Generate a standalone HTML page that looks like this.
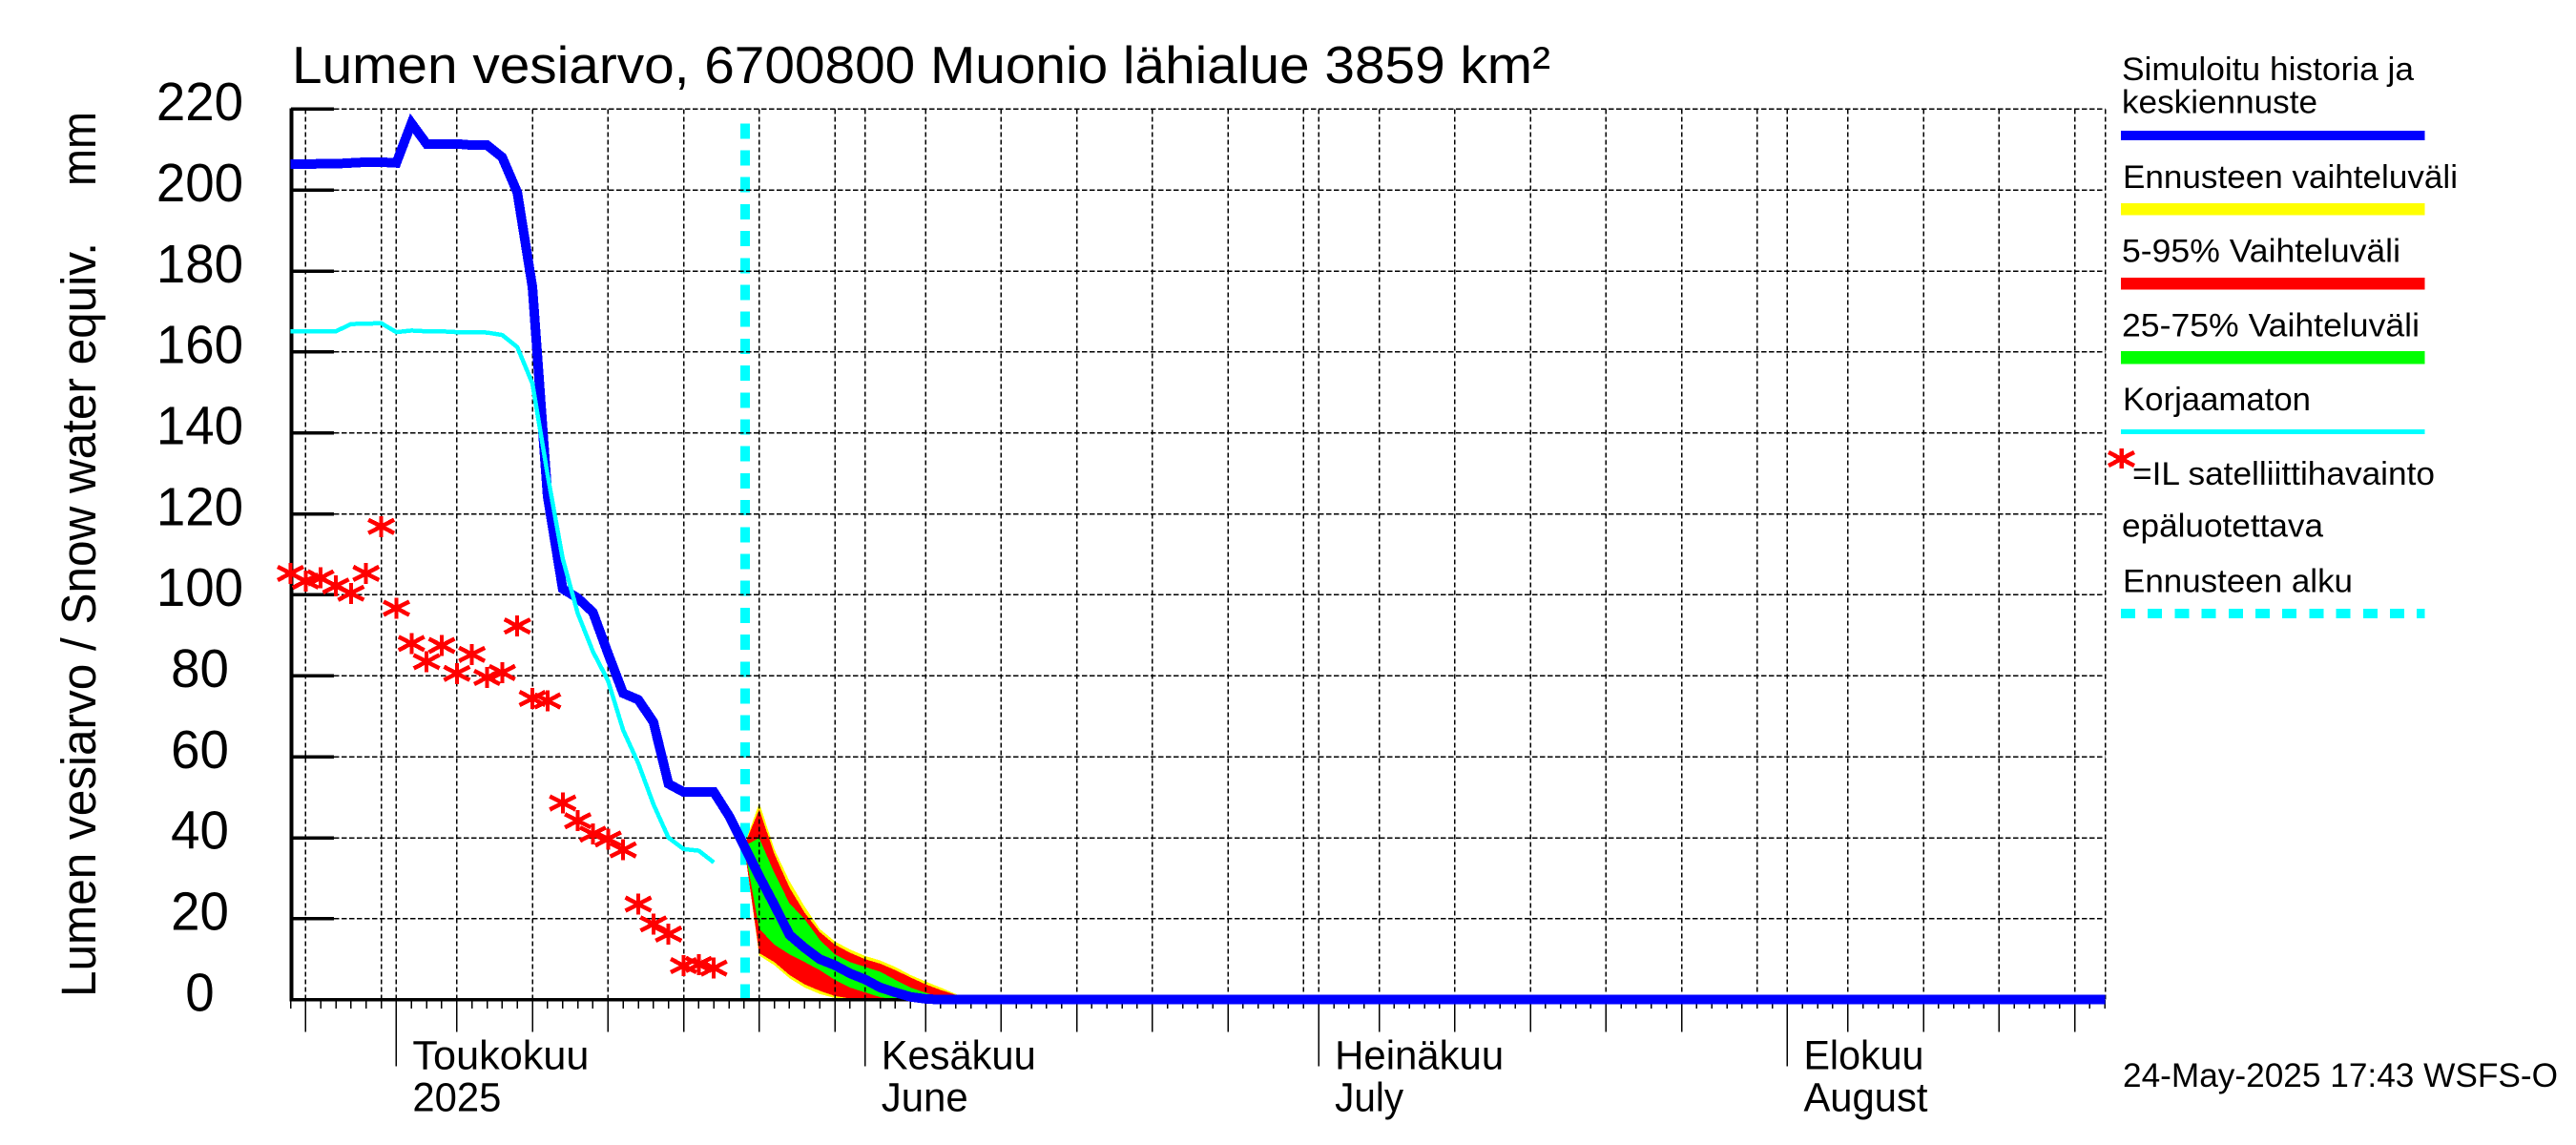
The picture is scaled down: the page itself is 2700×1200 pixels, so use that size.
<!DOCTYPE html>
<html lang="fi">
<head>
<meta charset="utf-8">
<title>Lumen vesiarvo</title>
<style>
html,body{margin:0;padding:0;background:#fff;}
svg{display:block;}
text{font-family:"Liberation Sans",sans-serif;fill:#000;}
</style>
</head>
<body>
<svg id="chart" xmlns="http://www.w3.org/2000/svg" width="2700" height="1200" viewBox="0 0 2700 1200">
  <rect x="0" y="0" width="2700" height="1200" fill="#fff"/>
  <g id="layer-forecast-start"></g>
  <g id="layer-bands"></g>
  <g id="layer-grid"></g>
  <g id="layer-axes"></g>
  <g id="layer-series"></g>
  <g id="layer-stars"></g>

  <text x="306" y="87" font-size="54.5" textLength="1319" lengthAdjust="spacingAndGlyphs">Lumen vesiarvo, 6700800 Muonio lähialue 3859 km²</text>
  <text transform="translate(100,1045) rotate(-90)" font-size="51" textLength="791" lengthAdjust="spacingAndGlyphs">Lumen vesiarvo / Snow water equiv.</text>
  <text transform="translate(100,195) rotate(-90)" font-size="51" textLength="78" lengthAdjust="spacingAndGlyphs">mm</text>

  <g font-size="34.5">
    <text x="2224" y="84" textLength="306" lengthAdjust="spacingAndGlyphs">Simuloitu historia ja</text>
    <text x="2224" y="118.5" textLength="205" lengthAdjust="spacingAndGlyphs">keskiennuste</text>
    <rect x="2223" y="137" width="318.5" height="10" fill="#0000ff"/>
    <text x="2225" y="197" textLength="351" lengthAdjust="spacingAndGlyphs">Ennusteen vaihteluväli</text>
    <rect x="2223" y="213" width="318.5" height="12.5" fill="#ffff00"/>
    <text x="2224" y="274.5" textLength="292" lengthAdjust="spacingAndGlyphs">5-95% Vaihteluväli</text>
    <rect x="2223" y="291" width="318.5" height="12.5" fill="#ff0000"/>
    <text x="2224" y="352.5" textLength="312" lengthAdjust="spacingAndGlyphs">25-75% Vaihteluväli</text>
    <rect x="2223" y="368" width="318.5" height="13.5" fill="#00ff00"/>
    <text x="2225" y="430" textLength="197" lengthAdjust="spacingAndGlyphs">Korjaamaton</text>
    <rect x="2223" y="450" width="318.5" height="5" fill="#00ffff"/>
    <g stroke="#ff0000" stroke-width="4.5" shape-rendering="crispEdges">
      <line x1="2223.5" y1="470" x2="2223.5" y2="491"/>
      <line x1="2210" y1="474" x2="2237" y2="488"/>
      <line x1="2210" y1="488" x2="2237" y2="474"/>
    </g>
    <text x="2235" y="508" textLength="317" lengthAdjust="spacingAndGlyphs">=IL satelliittihavainto</text>
    <text x="2224" y="562.5" textLength="211" lengthAdjust="spacingAndGlyphs">epäluotettava</text>
    <text x="2225" y="620.5" textLength="241" lengthAdjust="spacingAndGlyphs">Ennusteen alku</text>
    <line x1="2223" y1="643" x2="2541.5" y2="643" stroke="#00ffff" stroke-width="10" stroke-dasharray="15 13.2" shape-rendering="crispEdges"/>
  </g>

  <text x="2225" y="1139" font-size="35" textLength="456" lengthAdjust="spacingAndGlyphs">24-May-2025 17:43 WSFS-O</text>
</svg>

<script>
// ---- chart data (days are counted from 24 April 2025 = day 0) ----
const yTickValues = [0, 20, 40, 60, 80, 100, 120, 140, 160, 180, 200, 220];
const gridDays = [1, 6, 11, 16, 21, 26, 31, 36, 42, 47, 52, 57, 62, 67, 72, 77, 82, 87, 92, 97, 103, 108, 113, 118];
const longTickDays = [1, 11, 16, 21, 26, 31, 36, 42, 47, 52, 57, 62, 72, 77, 82, 87, 92, 103, 108, 113, 118];
const monthStartDays = [7, 38, 68, 99];
const monthTop = ['Toukokuu', 'Kesäkuu', 'Heinäkuu', 'Elokuu'];
const monthBottom = ['2025', 'June', 'July', 'August'];
const monthTopWidths = [185, 162, 177, 126];
const monthBottomWidths = [93, 91, 72, 130];

const simulatedValues = [206.4, 206.4, 206.5, 206.5, 206.7, 206.9, 206.9, 206.7, 216.5, 211.4, 211.4, 211.4, 211.1, 211.1, 208.1, 199.4, 176, 124.4, 101.5, 99.2, 95.7, 85.5, 75.7, 74.1, 68.6, 53.3, 51.3, 51.3, 51.3, 45.4, 38, 30.5, 23.4, 16, 12.8, 10, 8.5, 6.5, 5, 3, 1.8, 0.7, 0.2];
const simulatedEndDay = 120;
const uncorrectedValues = [165.1, 165.1, 165.1, 165.1, 166.9, 167, 167.1, 164.9, 165.3, 165.1, 165.1, 164.9, 164.9, 164.8, 164.2, 161.2, 152.2, 129.7, 109, 95.4, 86, 78.8, 66.6, 58.4, 48.3, 40, 37.2, 36.8, 33.9];
const satelliteValues = [105.3, 103.4, 104.2, 102.2, 100.4, 105.3, 116.9, 96.7, 88, 83.5, 87.5, 80.6, 85.3, 79.6, 80.8, 92.3, 74.4, 73.8, 48.6, 44.2, 40.9, 39.7, 37, 23.6, 18.7, 16.2, 8.4, 8.7, 7.8];

const forecastStartDay = 30;
const rangeUpper = [38, 48.6, 37.2, 29.3, 23, 17.5, 14.4, 12.4, 10.8, 9.7, 8.1, 6.1, 4.5, 3, 1.4, 0];
const rangeLower = [38, 10.9, 8.5, 5.3, 3, 1.4, 0.4, 0, 0, 0, 0, 0, 0, 0, 0, 0];
const p95Upper = [38, 47, 36, 27.7, 21.5, 16.7, 13.6, 11.6, 10, 8.9, 7.3, 5.5, 3.8, 2.4, 1.2, 0];
const p5Lower = [38, 11.5, 9.3, 6.1, 3.8, 2.2, 0.9, 0.3, 0, 0, 0, 0, 0, 0, 0, 0];
const p75Upper = [38, 39.9, 31.3, 23.8, 19.9, 14.8, 11.2, 9.3, 8.1, 6.9, 4.9, 3, 1.7, 0.6, 0, 0];
const p25Lower = [38, 17.5, 13.6, 11.2, 9.3, 7.3, 4.9, 3, 1.8, 0.6, 0, 0, 0, 0, 0, 0];

// ---- axis functions ----
const SVGNS = 'http://www.w3.org/2000/svg';
function xScale(day) { return 304.5 + 15.848 * day; }
function yScale(value) { return 1047.7 - 4.2425 * value; }
const plotRightDay = 120;
const layerGrid = document.getElementById('layer-grid');
const layerAxes = document.getElementById('layer-axes');
const layerBands = document.getElementById('layer-bands');
const layerSeries = document.getElementById('layer-series');
const layerStars = document.getElementById('layer-stars');
const layerStart = document.getElementById('layer-forecast-start');

function lineEl(parent, x1, y1, x2, y2, color, width, dash) {
  const el = document.createElementNS(SVGNS, 'line');
  el.setAttribute('x1', x1);
  el.setAttribute('y1', y1);
  el.setAttribute('x2', x2);
  el.setAttribute('y2', y2);
  el.setAttribute('stroke', color);
  el.setAttribute('stroke-width', width);
  el.setAttribute('shape-rendering', 'crispEdges');
  if (dash) el.setAttribute('stroke-dasharray', dash);
  parent.appendChild(el);
  return el;
}
function textEl(parent, x, y, size, str, len) {
  const el = document.createElementNS(SVGNS, 'text');
  el.setAttribute('x', x);
  el.setAttribute('y', y);
  el.setAttribute('font-size', size);
  el.setAttribute('textLength', len);
  el.setAttribute('lengthAdjust', 'spacingAndGlyphs');
  el.textContent = str;
  parent.appendChild(el);
  return el;
}
function bandPoints(upper, lower) {
  const pts = [];
  upper.forEach(function (v, i) { pts.push(xScale(forecastStartDay + i) + ',' + yScale(v)); });
  for (let i = lower.length - 1; i >= 0; i--) {
    pts.push(xScale(forecastStartDay + i) + ',' + yScale(lower[i]));
  }
  return pts.join(' ');
}
function bandEl(upper, lower, color) {
  const el = document.createElementNS(SVGNS, 'polygon');
  el.setAttribute('points', bandPoints(upper, lower));
  el.setAttribute('fill', color);
  el.setAttribute('shape-rendering', 'crispEdges');
  layerBands.appendChild(el);
  return el;
}
function polylineEl(values, startDay, color, width, extraEndDay) {
  const pts = values.map(function (v, i) { return xScale(startDay + i) + ',' + yScale(v); });
  if (extraEndDay !== undefined) {
    pts.push(xScale(startDay + values.length) + ',' + yScale(0));
    pts.push(xScale(extraEndDay) + ',' + yScale(0));
  }
  const el = document.createElementNS(SVGNS, 'polyline');
  el.setAttribute('points', pts.join(' '));
  el.setAttribute('fill', 'none');
  el.setAttribute('stroke', color);
  el.setAttribute('stroke-width', width);
  el.setAttribute('stroke-linejoin', 'miter');
  el.setAttribute('stroke-miterlimit', '10');
  el.setAttribute('shape-rendering', 'crispEdges');
  layerSeries.appendChild(el);
  return el;
}

// forecast start marker
const startLine = lineEl(layerStart, xScale(forecastStartDay) + 1, yScale(0), xScale(forecastStartDay) + 1, 126, '#00ffff', 10, '16 12.2');



// forecast bands
const bandRange = bandEl(rangeUpper, rangeLower, '#ffff00');


const band595 = bandEl(p95Upper, p5Lower, '#ff0000');


const band2575 = bandEl(p75Upper, p25Lower, '#00ff00');



// horizontal grid, y ticks and y labels
yTickValues.forEach(function (v) {
  const y = yScale(v);
  if (v > 0) {
    const grid = lineEl(layerGrid, 350, y, xScale(plotRightDay), y, '#000', 1.5, '5.3 2.7');
    
    
    const tick = lineEl(layerAxes, 305, y, 350, y, '#000', 3.5);
    
    
  }
  const label = String(v);
  const len = label.length * 30.4;
  const txt = textEl(layerAxes, 209.5 - len / 2, y + 11.7, 57, label, len);
  
  
});

// vertical grid
gridDays.forEach(function (d) {
  const grid = lineEl(layerGrid, xScale(d), yScale(220), xScale(d), yScale(0), '#000', 1.5, '5.3 2.7');
  
  
});
monthStartDays.forEach(function (d) {
  const grid = lineEl(layerGrid, xScale(d), yScale(220), xScale(d), yScale(0), '#000', 1.5, '5.3 2.7');
  
  
});
const rightEdge = lineEl(layerGrid, xScale(plotRightDay) + 0.5, yScale(220), xScale(plotRightDay) + 0.5, yScale(0), '#000', 1.5, '5.3 2.7');



// x ticks
for (let d = 0; d <= plotRightDay; d++) {
  let bottom = 1057;
  if (longTickDays.indexOf(d) >= 0) bottom = 1081.5;
  if (monthStartDays.indexOf(d) >= 0) bottom = 1117.5;
  const tick = lineEl(layerAxes, xScale(d), 1048, xScale(d), bottom, '#000', 1.5);
  
  
}

// axis lines
const yAxis = lineEl(layerAxes, 305.5, 113.5, 305.5, 1049.5, '#000', 4);


const xAxis = lineEl(layerAxes, 304, yScale(0), xScale(plotRightDay), yScale(0), '#000', 3.5);



// month labels
monthStartDays.forEach(function (d, i) {
  const x = xScale(d) + 17;
  const top = textEl(layerAxes, x, 1120.5, 43, monthTop[i], monthTopWidths[i]);
  
  
  const bottom = textEl(layerAxes, x, 1164.5, 43, monthBottom[i], monthBottomWidths[i]);
  
  
});

// lines
const simulatedLine = polylineEl(simulatedValues, 0, '#0000ff', 10, simulatedEndDay);


const uncorrectedLine = polylineEl(uncorrectedValues, 0, '#00ffff', 4.5);



// satellite observation stars
satelliteValues.forEach(function (v, i) {
  const cx = xScale(i);
  const cy = yScale(v);
  const g = document.createElementNS(SVGNS, 'g');
  
  
  lineEl(g, cx, cy - 11, cx, cy + 11, '#ff0000', 4);
  lineEl(g, cx - 13.5, cy - 7, cx + 13.5, cy + 7, '#ff0000', 4.5);
  lineEl(g, cx - 13.5, cy + 7, cx + 13.5, cy - 7, '#ff0000', 4.5);
  layerStars.appendChild(g);
});
</script>
</body>
</html>
